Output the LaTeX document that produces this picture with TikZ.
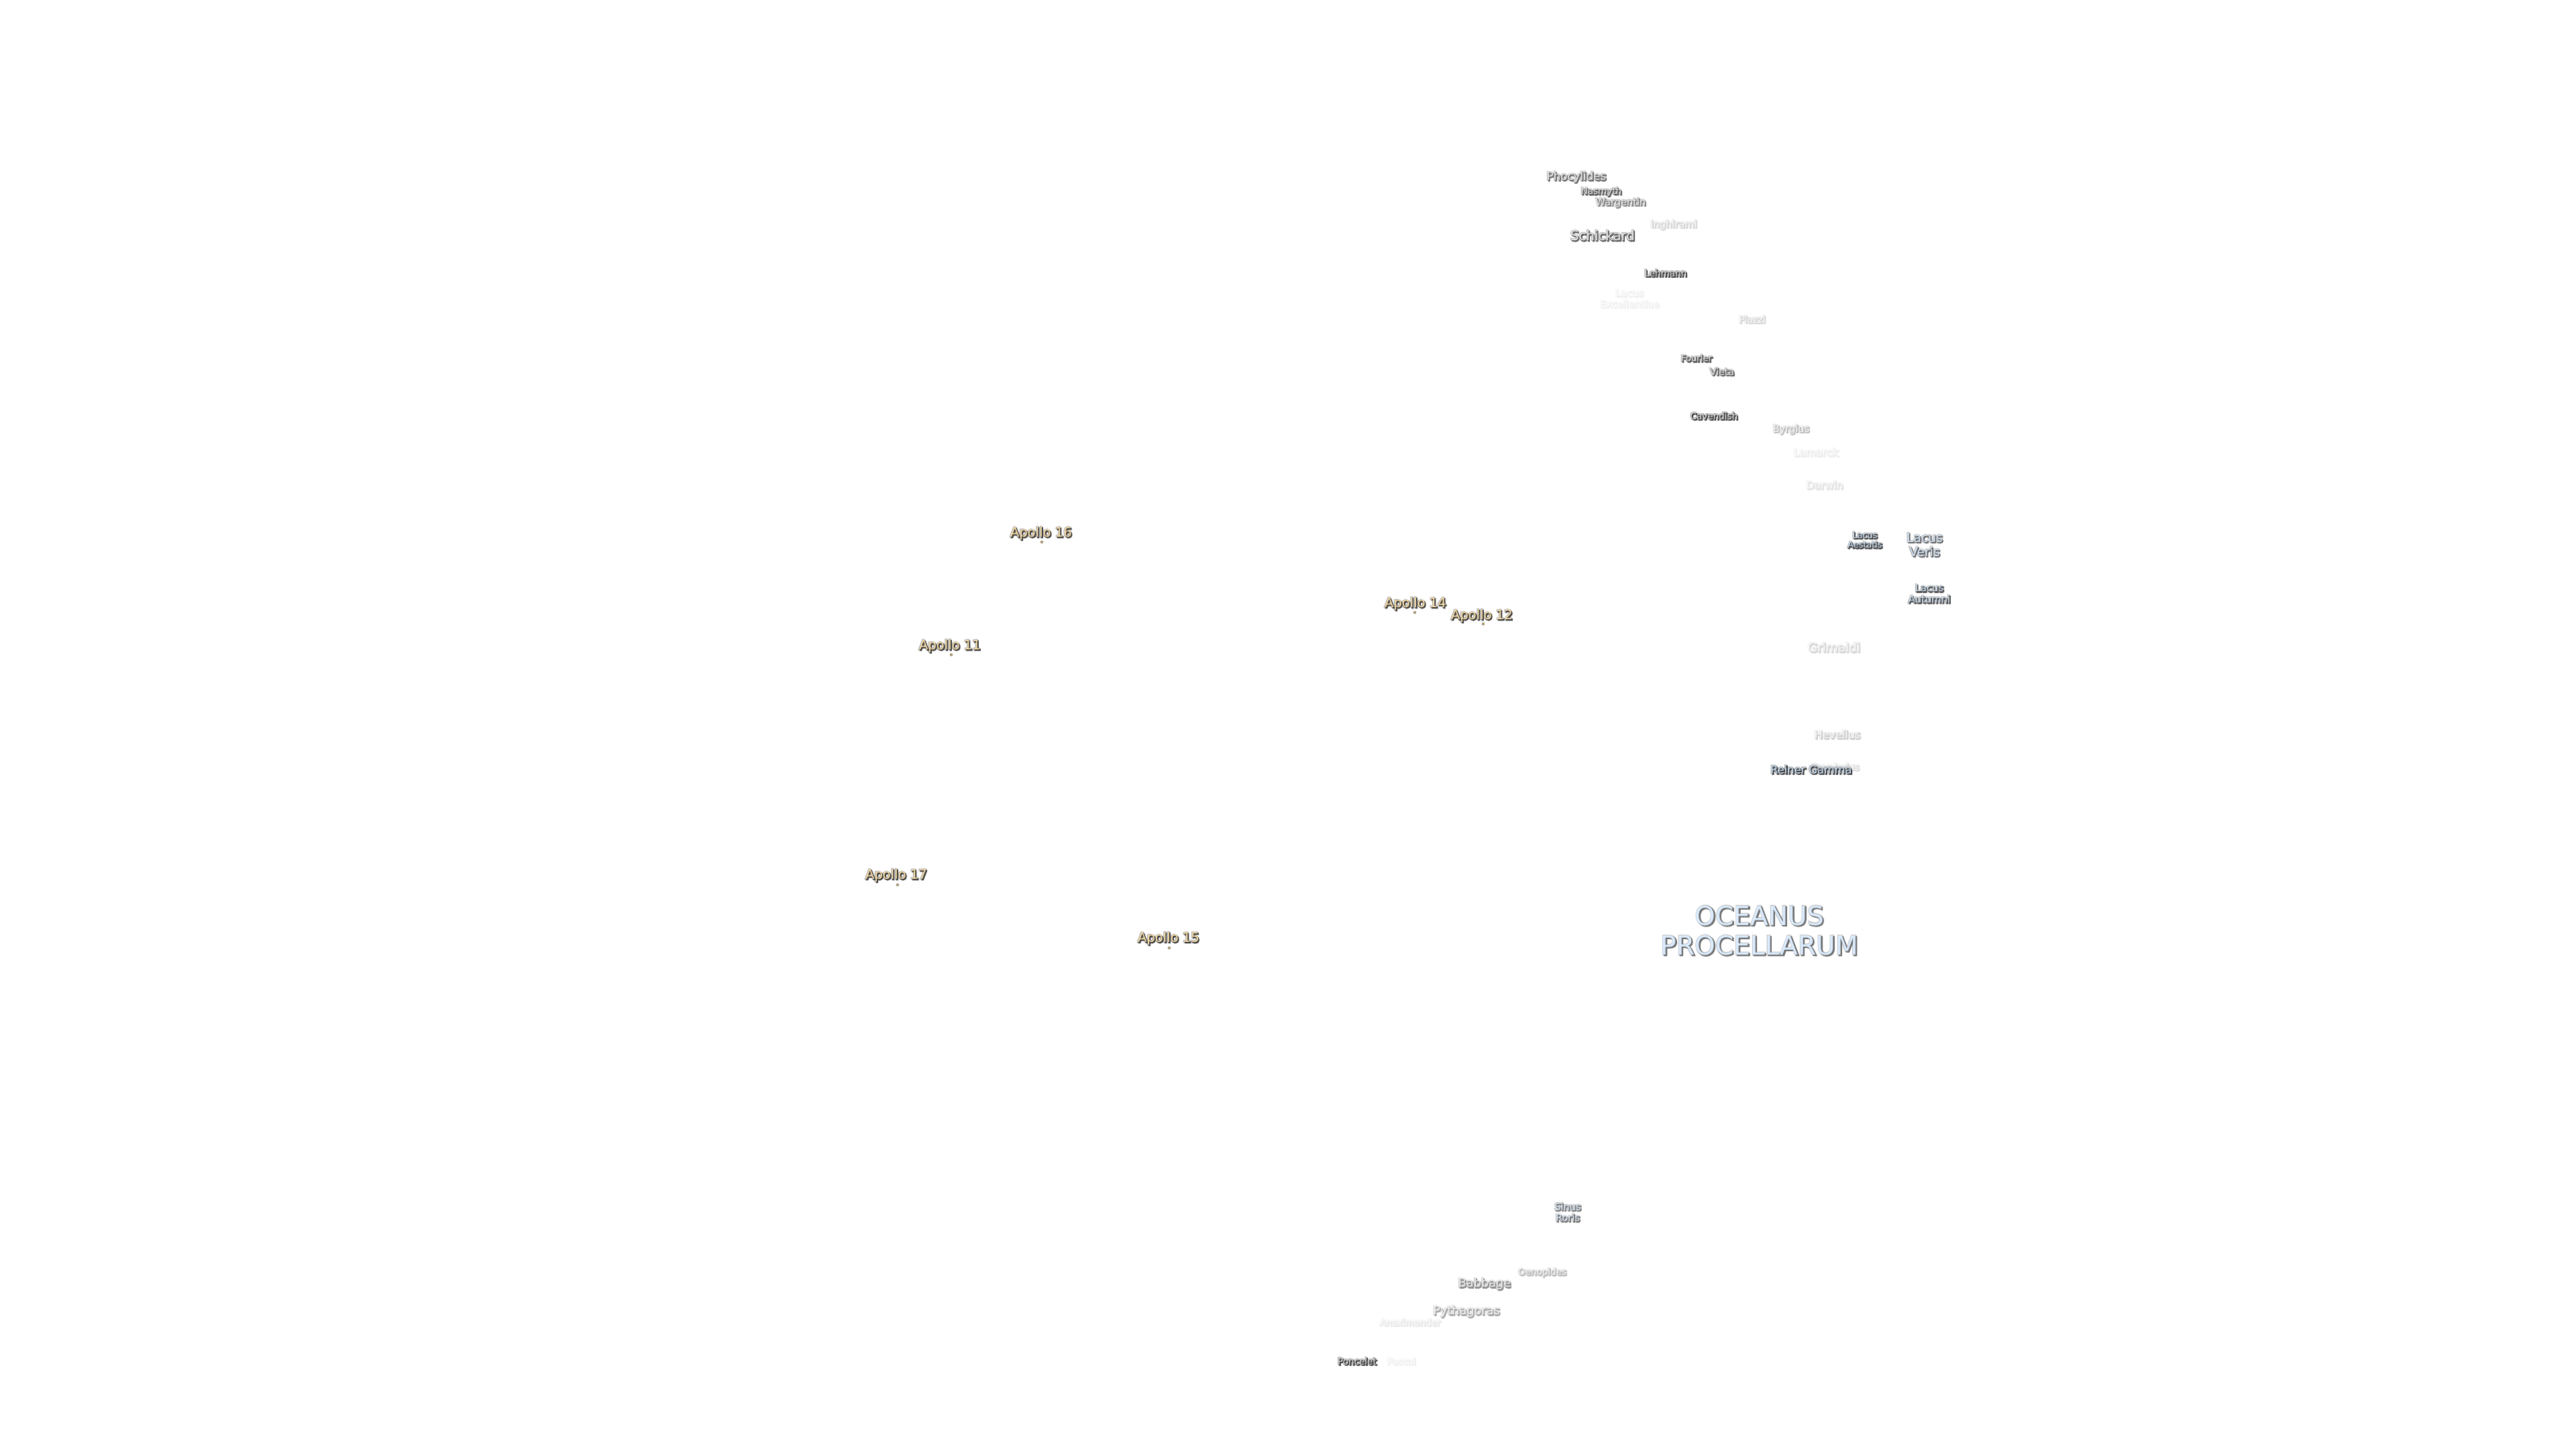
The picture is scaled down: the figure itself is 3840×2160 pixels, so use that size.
\documentclass[tikz,border=0pt]{standalone}
\usepackage{fontspec}
\setmainfont{DejaVu Sans}
\definecolor{haloGrey}{HTML}{B0B0B0}
\definecolor{shadowGrey}{HTML}{404040}
\definecolor{craterFill}{HTML}{E6E6E6}
\definecolor{seaFill}{HTML}{CFE6FF}
\definecolor{apolloFill}{HTML}{FFE2A8}
\def\pxpt{0.296}

% #1 name, #2 x, #3 y, #4 strength, #5 size in px, #6 fill, #7 text
\newcommand\moonlabel[7]{
  \pgfmathsetmacro\lblpt{#5*\pxpt}
  \pgfmathsetmacro\lblbase{#5*\pxpt*1.13}
  \tikzset{lblfont/.style={align=center,inner sep=0pt,font=\fontsize{\lblpt pt}{\lblbase pt}\selectfont}}
  % halo, then shadow, then the text on top
  \node[lblfont,text=haloGrey!#4!white] at (#2-0.4,#3-0.4)
    {\special{pdf:code q 2 Tr 0.6 w}#7\special{pdf:code Q}};
  \node[lblfont,text=shadowGrey!#4!white] at (#2+1.2,#3+1.2)
    {\special{pdf:code q 2 Tr 0.42 w}#7\special{pdf:code Q}};
  \node[lblfont,text=#6!#4!white] (#1) at (#2,#3) {#7};
}

\begin{document}
\begin{tikzpicture}[x=0.1mm,y=-0.1mm,
    sitedot/.style={circle,inner sep=0pt,minimum size=1.3pt,fill=apolloFill!55!shadowGrey}
  ]
  \useasboundingbox (0,0) rectangle (3840,2160);

  \moonlabel{Phocylides}{2350}{264}{75}{16}{craterFill}{Phocylides}
  \moonlabel{Nasmyth}{2387}{286}{85}{13}{craterFill}{Nasmyth}
  \moonlabel{Wargentin}{2416}{302}{65}{14}{craterFill}{Wargentin}
  \moonlabel{Inghirami}{2495}{335}{22}{14}{craterFill}{Inghirami}
  \moonlabel{Schickard}{2389}{351}{85}{19}{craterFill}{Schickard}
  \moonlabel{Lehmann}{2483}{407}{100}{13}{craterFill}{Lehmann}
  \moonlabel{LacusExc}{2429}{445}{8}{14}{craterFill}{Lacus\\Excellentiae}
  \moonlabel{Piazzi}{2612}{476}{22}{13.5}{craterFill}{Piazzi}
  \moonlabel{Fourier}{2529}{534}{85}{12.7}{craterFill}{Fourier}
  \moonlabel{Vieta}{2567}{554}{80}{13.6}{craterFill}{Vieta}
  \moonlabel{Cavendish}{2555}{620}{100}{13}{craterFill}{Cavendish}
  \moonlabel{Byrgius}{2670}{640}{35}{14}{craterFill}{Byrgius}
  \moonlabel{Lamarck}{2707}{674}{10}{15}{craterFill}{Lamarck}
  \moonlabel{Darwin}{2720}{723}{15}{15}{craterFill}{Darwin}
  \moonlabel{LacusAes}{2780}{805}{95}{12.3}{seaFill}{Lacus\\Aestatis}
  \moonlabel{LacusVer}{2869}{812}{80}{18}{seaFill}{Lacus\\Veris}
  \moonlabel{LacusAut}{2876}{885}{90}{14.2}{seaFill}{Lacus\\Autumni}
  \moonlabel{Grimaldi}{2734}{965}{22}{17.7}{craterFill}{Grimaldi}
  \moonlabel{Hevelius}{2739}{1095}{25}{15.4}{craterFill}{Hevelius}
  \moonlabel{Cavalerius}{2736}{1143}{20}{13}{craterFill}{Cavalerius}
  \moonlabel{ReinerGamma}{2700}{1147}{100}{15.6}{seaFill}{Reiner Gamma}
  \moonlabel{Oceanus}{2623}{1387}{75}{37.6}{seaFill}{OCEANUS\\PROCELLARUM}
  \moonlabel{SinusRoris}{2337}{1807}{70}{14}{seaFill}{Sinus\\Roris}
  \moonlabel{Oenopides}{2299}{1897}{35}{13}{craterFill}{Oenopides}
  \moonlabel{Babbage}{2213}{1914}{60}{17}{craterFill}{Babbage}
  \moonlabel{Pythagoras}{2186}{1955}{45}{17}{craterFill}{Pythagoras}
  \moonlabel{Anaximander}{2102}{1971}{12}{13}{craterFill}{Anaximander}
  \moonlabel{Poncelet}{2023}{2029}{100}{13}{craterFill}{Poncelet}
  \moonlabel{Pascal}{2089}{2029}{8}{13}{craterFill}{Pascal}

  \moonlabel{ApolloA}{1552}{795}{100}{18.8}{apolloFill}{Apollo 16}
  \moonlabel{ApolloB}{1416}{963}{100}{18.8}{apolloFill}{Apollo 11}
  \moonlabel{ApolloC}{2110}{900}{100}{18.8}{apolloFill}{Apollo 14}
  \moonlabel{ApolloD}{2209}{918}{100}{18.8}{apolloFill}{Apollo 12}
  \moonlabel{ApolloE}{1336}{1305}{100}{18.8}{apolloFill}{Apollo 17}
  \moonlabel{ApolloF}{1742}{1399}{100}{18.8}{apolloFill}{Apollo 15}

  \node[sitedot] (SiteA) at (1553,808) {};
  \node[sitedot] (SiteB) at (1418,976) {};
  \node[sitedot] (SiteC) at (2109,913) {};
  \node[sitedot] (SiteD) at (2211,930) {};
  \node[sitedot] (SiteE) at (1338,1319) {};
  \node[sitedot] (SiteF) at (1743,1413) {};
\end{tikzpicture}
\end{document}
